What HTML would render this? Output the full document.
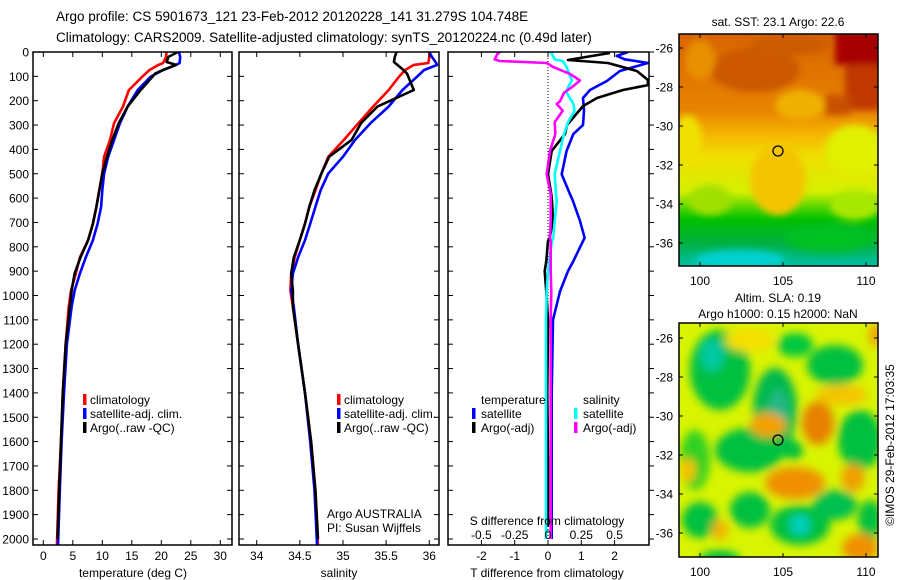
<!DOCTYPE html>
<html><head><meta charset="utf-8">
<style>
html,body{margin:0;padding:0;background:#fff;}
svg{display:block;font-family:"Liberation Sans",sans-serif;}
text{fill:#000;}
</style></head>
<body>
<svg id="fig" width="900" height="580" viewBox="0 0 900 580" xmlns="http://www.w3.org/2000/svg">
<defs>
<filter id="blur1" x="-20%" y="-20%" width="140%" height="140%"><feGaussianBlur stdDeviation="3.5"/></filter>
<filter id="blur2" x="-30%" y="-30%" width="160%" height="160%"><feGaussianBlur stdDeviation="4.5"/></filter>
<clipPath id="clipMap1"><rect x="679" y="34" width="199" height="232"/></clipPath>
<clipPath id="clipMap2"><rect x="679" y="323" width="199" height="234"/></clipPath>
<linearGradient id="sstGrad" x1="0" y1="0" x2="0" y2="1">
<stop offset="0" stop-color="#d86400"/>
<stop offset="0.33" stop-color="#e88400"/>
<stop offset="0.43" stop-color="#f4b400"/>
<stop offset="0.53" stop-color="#f0e000"/>
<stop offset="0.68" stop-color="#d4f000"/>
<stop offset="0.75" stop-color="#50d400"/>
<stop offset="0.8" stop-color="#00c000"/>
<stop offset="0.9" stop-color="#00b040"/>
<stop offset="1" stop-color="#00c0a8"/>
</linearGradient>
</defs>
<g id="titles">
<text x="56" y="21" font-size="13.5">Argo profile: CS 5901673_121 23-Feb-2012 20120228_141 31.279S 104.748E</text>
<text x="56" y="42" font-size="13.5">Climatology: CARS2009. Satellite-adjusted climatology: synTS_20120224.nc (0.49d later)</text>
</g>
<g id="panels"></g>
<g id="maps">
<g clip-path="url(#clipMap1)">
<rect x="679" y="34" width="199" height="232" fill="url(#sstGrad)"/>
<g filter="url(#blur1)">
<rect x="835" y="30" width="50" height="35" fill="#a80000"/>
<rect x="845" y="65" width="40" height="45" fill="#c03800"/>
<rect x="825" y="95" width="25" height="20" fill="#c85000"/>
<ellipse cx="755" cy="70" rx="45" ry="22" fill="#cc5800"/>
<ellipse cx="790" cy="45" rx="40" ry="10" fill="#cc5c00"/>
<ellipse cx="700" cy="60" rx="15" ry="20" fill="#e89000"/>
<ellipse cx="800" cy="105" rx="25" ry="15" fill="#f0b000"/>
<ellipse cx="688" cy="140" rx="14" ry="25" fill="#f0e000"/>
<ellipse cx="855" cy="150" rx="30" ry="25" fill="#e0f000"/>
<ellipse cx="778" cy="180" rx="28" ry="35" fill="#f4c400"/>
<ellipse cx="710" cy="200" rx="22" ry="15" fill="#a0e000"/>
<ellipse cx="855" cy="205" rx="25" ry="15" fill="#a8e800"/>
<ellipse cx="740" cy="260" rx="45" ry="10" fill="#00d0d0"/>
<ellipse cx="830" cy="238" rx="45" ry="14" fill="#00c020"/>
</g>
<circle id="argoDot1" cx="778" cy="151" r="5" fill="none" stroke="#000" stroke-width="1.3"/>
</g>
<rect x="679" y="34" width="199" height="232" fill="none" stroke="#000" stroke-width="1.5"/>
<g clip-path="url(#clipMap2)">
<rect x="679" y="323" width="199" height="234" fill="#d8f400"/>
<g filter="url(#blur2)">
<ellipse cx="720" cy="370" rx="30" ry="40" fill="#00c040"/>
<ellipse cx="712" cy="355" rx="12" ry="16" fill="#00c8a0"/>
<ellipse cx="775" cy="410" rx="22" ry="42" fill="#00b850"/>
<ellipse cx="778" cy="412" rx="10" ry="22" fill="#20b888"/>
<ellipse cx="835" cy="365" rx="28" ry="20" fill="#00c040"/>
<ellipse cx="795" cy="345" rx="18" ry="12" fill="#00c840"/>
<ellipse cx="750" cy="450" rx="35" ry="22" fill="#00c040"/>
<ellipse cx="860" cy="440" rx="22" ry="30" fill="#00c040"/>
<ellipse cx="695" cy="460" rx="15" ry="30" fill="#30d020"/>
<ellipse cx="750" cy="510" rx="20" ry="18" fill="#00c040"/>
<ellipse cx="800" cy="525" rx="30" ry="20" fill="#00c040"/>
<ellipse cx="800" cy="525" rx="10" ry="10" fill="#00d0c0"/>
<ellipse cx="835" cy="505" rx="22" ry="15" fill="#00c050"/>
<ellipse cx="700" cy="520" rx="18" ry="18" fill="#00c040"/>
<ellipse cx="720" cy="560" rx="20" ry="10" fill="#00c040"/>
<ellipse cx="870" cy="520" rx="12" ry="20" fill="#00c040"/>
<ellipse cx="793" cy="450" rx="10" ry="10" fill="#00c040"/>
<ellipse cx="768" cy="425" rx="18" ry="12" fill="#f4a000"/>
<ellipse cx="818" cy="423" rx="16" ry="22" fill="#e88000"/>
<ellipse cx="795" cy="483" rx="30" ry="16" fill="#f09000"/>
<ellipse cx="853" cy="478" rx="12" ry="14" fill="#f0a000"/>
<ellipse cx="842" cy="395" rx="26" ry="10" fill="#f4c400"/>
<ellipse cx="860" cy="548" rx="18" ry="14" fill="#f09000"/>
<ellipse cx="720" cy="530" rx="8" ry="10" fill="#f4b000"/>
<ellipse cx="688" cy="470" rx="8" ry="12" fill="#f4c000"/>
<ellipse cx="750" cy="340" rx="25" ry="12" fill="#f4e000"/>
<ellipse cx="875" cy="335" rx="6" ry="12" fill="#f0a000"/>
</g>
<circle id="argoDot2" cx="778" cy="440" r="5" fill="none" stroke="#000" stroke-width="1.3"/>
</g>
<rect x="679" y="323" width="199" height="234" fill="none" stroke="#000" stroke-width="1.5"/>
<text x="778" y="26" font-size="12" text-anchor="middle">sat. SST: 23.1 Argo: 22.6</text>
<text x="778" y="302" font-size="12" text-anchor="middle">Altim. SLA: 0.19</text>
<text x="778" y="318" font-size="12" text-anchor="middle">Argo h1000: 0.15 h2000: NaN</text>
<text transform="translate(894,445) rotate(-90)" font-size="12" text-anchor="middle">©IMOS 29-Feb-2012 17:03:35</text>
</g>
</svg>
<script>
// ---- data ----
const depthClim = [0,20,45,53,74,101,156,224,292,361,430,499,568,636,705,773,843,910,980,1047,1200,1400,1600,1800,2030];
const tempClim  = [20.9,20.8,20.3,19.5,18.0,16.8,14.5,13.5,12.0,11.3,10.3,10.0,9.5,9.0,8.4,7.6,6.2,5.5,4.7,4.3,3.8,3.3,3.0,2.6,2.3];
const tempSat   = [23.0,23.2,23.1,22.5,20.3,18.2,16.0,14.3,13.0,12.0,11.0,10.3,10.0,9.8,9.2,8.4,7.2,6.2,5.3,4.8,4.0,3.5,3.1,2.8,2.5];
const depthArgo = [0,20,41,53,74,88,156,224,292,361,430,499,568,636,705,773,843,910,980,1047,1200,1400,1600,1800,2000];
const tempArgo  = [22.8,21.2,20.9,22.5,20.3,19.0,16.5,14.3,12.8,11.7,10.8,10.0,9.5,9.0,8.4,7.6,6.3,5.3,4.8,4.5,3.8,3.3,3.0,2.7,2.4];

const salClim   = [36.00,36.00,35.99,35.82,35.72,35.65,35.53,35.35,35.18,35.01,34.83,34.75,34.68,34.61,34.56,34.50,34.44,34.40,34.39,34.42,34.48,34.56,34.63,34.68,34.71];
const salSat    = [36.00,36.03,36.08,36.09,35.94,35.86,35.69,35.53,35.32,35.14,35.00,34.83,34.74,34.68,34.62,34.56,34.48,34.42,34.40,34.43,34.48,34.56,34.62,34.67,34.70];
const salArgo   = [35.62,35.60,35.59,35.63,35.70,35.74,35.82,35.40,35.21,35.10,34.84,34.75,34.67,34.61,34.56,34.50,34.43,34.40,34.42,34.42,34.48,34.56,34.63,34.68,34.71];

const depthDTs  = [0,16,30,45,78,119,156,189,241,300,337,406,502,584,612,694,763,859,900,983,1100,1400,1700,2000];
const dTsat     = [2.4,2.07,2.3,3.0,2.16,1.77,1.26,1.05,1.08,1.05,0.76,0.56,0.41,0.66,0.75,0.96,1.1,0.76,0.6,0.36,0.15,0.11,0.11,0.11];
const depthDTa  = [4,33,45,78,115,136,156,189,222,300,337,406,502,584,612,694,763,776,859,900,983,1100,1400,1700,1950];
const dTargo    = [1.86,0.6,1.8,2.67,3.0,3.0,2.25,1.47,1.05,0.57,0.51,0.11,0.0,0.1,0.12,0.15,0.05,0.0,-0.05,-0.1,-0.05,0.0,-0.02,0.0,0.0];
const depthDS   = [0,8,31,37,45,62,90,117,144,167,203,213,241,288,337,406,502,584,612,694,763,776,859,900,983,1100,1400,1700,2000];
const dSsat     = [0.015,0.03,0.05,0.11,0.12,0.14,0.16,0.18,0.15,0.14,0.18,0.19,0.2,0.15,0.12,0.09,0.05,0.06,0.065,0.05,0.04,0.03,0.01,0.0,-0.01,-0.015,-0.015,-0.015,-0.015];
const dSargo    = [-0.36,-0.38,-0.4,-0.36,-0.01,0.04,0.165,0.24,0.18,0.12,0.09,0.065,0.11,0.05,0.055,0.015,-0.01,0.02,0.02,0.02,0.015,0.02,0.02,0.02,0.025,0.02,0.02,0.02,0.02];

const depthTicks = [0,100,200,300,400,500,600,700,800,900,1000,1100,1200,1300,1400,1500,1600,1700,1800,1900,2000];
const tempTicks  = [0,5,10,15,20,25,30];
const salTicks   = [34,34.5,35,35.5,36];
const salTickLabels = ["34","34.5","35","35.5","36"];
const dTTicks    = [-2,-1,0,1,2];
const dSTicks    = [-0.5,-0.25,0,0.25,0.5];
const dSTickLabels = ["-0.5","-0.25","0","0.25","0.5"];
const lonTicks   = [100,105,110];
const latTicks   = [-26,-28,-30,-32,-34,-36];

// ---- geometry ----
const NS = "http://www.w3.org/2000/svg";
const TOP = 52, BOT = 545;
const yD = d => TOP + d * 0.2435;
const xT = t => 43.3 + t * 5.9;
const xS = s => 256.7 + (s - 34) * 86.3;
const xDT = t => 548 + t * 33.3;
const xDS = s => 548 + s * 133.2;
const P1 = {l:33, r:232}, P2 = {l:239, r:439}, P3 = {l:448, r:649};

const root = document.getElementById('panels');
function mk(tag, attrs, parent){
  const e = document.createElementNS(NS, tag);
  for (const k in attrs) e.setAttribute(k, attrs[k]);
  (parent||root).appendChild(e);
  return e;
}
function txt(x,y,s,size,anchor,parent){
  const t = mk('text',{x:x,y:y,'font-size':size||12,'text-anchor':anchor||'start'},parent);
  t.textContent = s;
  return t;
}
function line(vals, depths, xf, color, name, parent){
  let d = '';
  for (let i=0;i<vals.length;i++){
    d += (i?'L':'M') + xf(vals[i]).toFixed(1) + ' ' + yD(depths[i]).toFixed(1);
  }
  const p = mk('path',{d:d,fill:'none',stroke:color,'stroke-width':2.6,'stroke-linejoin':'round'},parent);
  
  
  return p;
}
function frame(P, name){
  const g = mk('g',{});
  
  
  const clip = mk('clipPath',{id:'clip-'+name}, g);
  mk('rect',{x:P.l,y:TOP,width:P.r-P.l,height:BOT-TOP}, clip);
  const inner = mk('g',{'clip-path':'url(#clip-'+name+')'}, g);
  return {g:g, inner:inner};
}
function depthTicksFor(P, g, outsideRight){
  depthTicks.forEach(d=>{
    const y = yD(d);
    mk('line',{x1:P.l,y1:y,x2:P.l+5,y2:y,stroke:'#000','stroke-width':1},g);
    if (outsideRight) mk('line',{x1:P.r,y1:y,x2:P.r+5,y2:y,stroke:'#000','stroke-width':1},g);
    else mk('line',{x1:P.r-5,y1:y,x2:P.r,y2:y,stroke:'#000','stroke-width':1},g);
  });
}
function xTicksFor(P, g, ticks, xf){
  ticks.forEach(v=>{
    const x = xf(v);
    mk('line',{x1:x,y1:TOP,x2:x,y2:TOP+5,stroke:'#000','stroke-width':1},g);
    mk('line',{x1:x,y1:BOT-5,x2:x,y2:BOT,stroke:'#000','stroke-width':1},g);
  });
}
function border(P,g){
  mk('rect',{x:P.l,y:TOP,width:P.r-P.l,height:BOT-TOP,fill:'none',stroke:'#000','stroke-width':1.5},g);
}
function legendMark(x,y,color,g){
  mk('rect',{x:x,y:y-10,width:3.5,height:11,fill:color},g);
}

// depth axis labels
const dl = mk('g',{});


depthTicks.forEach(d=>{ txt(29, yD(d)+4.5, String(d), 12, 'end', dl); });

// ---- panel 1: temperature ----
const f1 = frame(P1,'temperature-panel');
line(tempClim, depthClim, xT, '#ff0000', 'temp-climatology-line', f1.inner);
line(tempSat, depthClim, xT, '#0000ff', 'temp-satellite-line', f1.inner);
line(tempArgo, depthArgo, xT, '#000000', 'temp-argo-line', f1.inner);
depthTicksFor(P1, f1.g, false);
xTicksFor(P1, f1.g, tempTicks, xT);
border(P1, f1.g);
tempTicks.forEach(v=>txt(xT(v), 560, String(v), 12, 'middle', f1.g));
txt(133, 577, 'temperature (deg C)', 12, 'middle', f1.g);
const lg1 = mk('g',{}, f1.g);


[['climatology','#ff0000'],['satellite-adj. clim.','#0000ff'],['Argo(..raw -QC)','#000000']].forEach((e,i)=>{
  legendMark(83, 404+i*14, e[1], lg1); txt(90, 404+i*14, e[0], 12, 'start', lg1);
});

// ---- panel 2: salinity ----
const f2 = frame(P2,'salinity-panel');
line(salClim, depthClim, xS, '#ff0000', 'sal-climatology-line', f2.inner);
line(salSat, depthClim, xS, '#0000ff', 'sal-satellite-line', f2.inner);
line(salArgo, depthArgo, xS, '#000000', 'sal-argo-line', f2.inner);
depthTicksFor(P2, f2.g, false);
xTicksFor(P2, f2.g, salTicks, xS);
border(P2, f2.g);
salTicks.forEach((v,i)=>txt(xS(v), 560, salTickLabels[i], 12, 'middle', f2.g));
txt(339, 577, 'salinity', 12, 'middle', f2.g);
const lg2 = mk('g',{}, f2.g);


[['climatology','#ff0000'],['satellite-adj. clim.','#0000ff'],['Argo(..raw -QC)','#000000']].forEach((e,i)=>{
  legendMark(337, 404+i*14, e[1], lg2); txt(344, 404+i*14, e[0], 12, 'start', lg2);
});
txt(327, 518, 'Argo AUSTRALIA', 12, 'start', f2.g);
txt(327, 532, 'PI: Susan Wijffels', 12, 'start', f2.g);

// ---- panel 3: differences ----
const f3 = frame(P3,'difference-panel');
mk('line',{x1:xDT(0),y1:TOP,x2:xDT(0),y2:BOT,stroke:'#000','stroke-width':1,'stroke-dasharray':'1,2'},f3.inner);
line(dTsat, depthDTs, xDT, '#0000ff', 'dT-satellite-line', f3.inner);
line(dTargo, depthDTa, xDT, '#000000', 'dT-argo-line', f3.inner);
line(dSsat, depthDS, xDS, '#00ffff', 'dS-satellite-line', f3.inner);
line(dSargo, depthDS, xDS, '#ff00ff', 'dS-argo-line', f3.inner);
depthTicksFor(P3, f3.g, true);
xTicksFor(P3, f3.g, dTTicks, xDT);
border(P3, f3.g);
dTTicks.forEach(v=>txt(xDT(v), 560, v<0?('-'+Math.abs(v)):String(v), 12, 'middle', f3.g));
txt(547, 577, 'T difference from climatology', 12, 'middle', f3.g);
dSTicks.forEach((v,i)=>txt(xDS(v), 539, dSTickLabels[i], 12, 'middle', f3.g));
txt(547, 525, 'S difference from climatology', 12, 'middle', f3.g);
const lg3 = mk('g',{}, f3.g);


txt(481, 404, 'temperature', 12, 'start', lg3);
txt(583, 404, 'salinity', 12, 'start', lg3);
[['satellite','#0000ff'],['Argo(-adj)','#000000']].forEach((e,i)=>{
  legendMark(472, 418+i*14, e[1], lg3); txt(481, 418+i*14, e[0], 12, 'start', lg3);
});
[['satellite','#00ffff'],['Argo(-adj)','#ff00ff']].forEach((e,i)=>{
  legendMark(574, 418+i*14, e[1], lg3); txt(583, 418+i*14, e[0], 12, 'start', lg3);
});

// ---- map axes ----
const xLon = lon => 700 + (lon-100)*16.6;
const maps = [{top:34,bot:266,lat0:48,label:'sst'},{top:323,bot:557,lat0:338,label:'sla'}];
const mapsG = document.getElementById('maps');
maps.forEach(m=>{
  const g = mk('g',{}, mapsG);
  
  
  const yLat = lat => m.lat0 + (-26-lat)*19.5;
  latTicks.forEach(lat=>{
    const y = yLat(lat);
    mk('line',{x1:679,y1:y,x2:683,y2:y,stroke:'#000'},g);
    mk('line',{x1:874,y1:y,x2:878,y2:y,stroke:'#000'},g);
    txt(673, y+4.5, String(lat), 12, 'end', g);
  });
  lonTicks.forEach(lon=>{
    const x = xLon(lon);
    mk('line',{x1:x,y1:m.top,x2:x,y2:m.top+4,stroke:'#000'},g);
    mk('line',{x1:x,y1:m.bot-4,x2:x,y2:m.bot,stroke:'#000'},g);
    txt(x, m.bot+19, String(lon), 12, 'middle', g);
  });
});
</script>
</body></html>
